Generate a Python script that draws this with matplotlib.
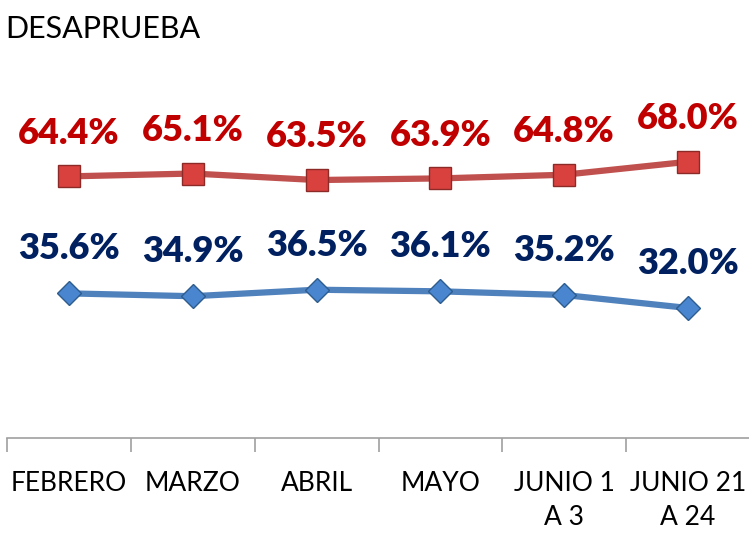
import matplotlib
matplotlib.use("Agg")
import matplotlib.pyplot as plt
import numpy as np

categorias = ["FEBRERO", "MARZO", "ABRIL", "MAYO", "JUNIO 1\nA 3", "JUNIO 21\nA 24"]
desaprueba_rojo = [64.4, 65.1, 63.5, 63.9, 64.8, 68.0]
desaprueba_azul = [35.6, 34.9, 36.5, 36.1, 35.2, 32.0]

plt.rcParams['font.family'] = ['Lato', 'DejaVu Sans']

fig = plt.figure(figsize=(7.49, 5.33), dpi=100)
ax = fig.add_axes([7 / 749, 1 - 438 / 533, 743 / 749, 325 / 533])

x = np.arange(len(categorias))

# linea roja con cuadros
ax.plot(x, desaprueba_rojo, color='#C0504D', lw=4.5, marker='s', ms=16,
        mfc='#D9413E', mec='#8C2A28', mew=1.0, zorder=3)
# linea azul con rombos
ax.plot(x, desaprueba_azul, color='#4F81BD', lw=4.5, marker='D', ms=12.5,
        mfc='#4A85D0', mec='#2E5C8F', mew=1.0, zorder=3)

for i in range(len(x)):
    ax.annotate(f"{desaprueba_rojo[i]:.1f}%", (x[i], desaprueba_rojo[i]),
                xytext=(0, 31), textcoords='offset points', ha='center', va='center',
                fontsize=26, fontweight='heavy', color='#C00000')
    ax.annotate(f"{desaprueba_azul[i]:.1f}%", (x[i], desaprueba_azul[i]),
                xytext=(0, 32), textcoords='offset points', ha='center', va='center',
                fontsize=26, fontweight='heavy', color='#002060')

ax.set_xlim(-0.5, len(x) - 0.5)
ax.set_ylim(0, 80)

for s in ['top', 'right', 'left']:
    ax.spines[s].set_visible(False)
ax.spines['bottom'].set_color('#A0A0A0')
ax.spines['bottom'].set_linewidth(1.2)

ax.set_yticks([])
ax.set_xticks(x)
ax.set_xticklabels(categorias, fontsize=19, linespacing=1.45)
ax.set_xticks(np.arange(-0.5, len(x), 1.0), minor=True)
ax.tick_params(axis='x', which='major', length=0, pad=24)
ax.tick_params(axis='x', which='minor', length=10, width=1.2, color='#A0A0A0')
for lbl in ax.get_xticklabels():
    lbl.set_va('top')

fig.text(5 / 749, 1 - 38 / 533, "DESAPRUEBA", fontsize=22, va='baseline', ha='left')

fig.savefig("out.png", dpi=100)
